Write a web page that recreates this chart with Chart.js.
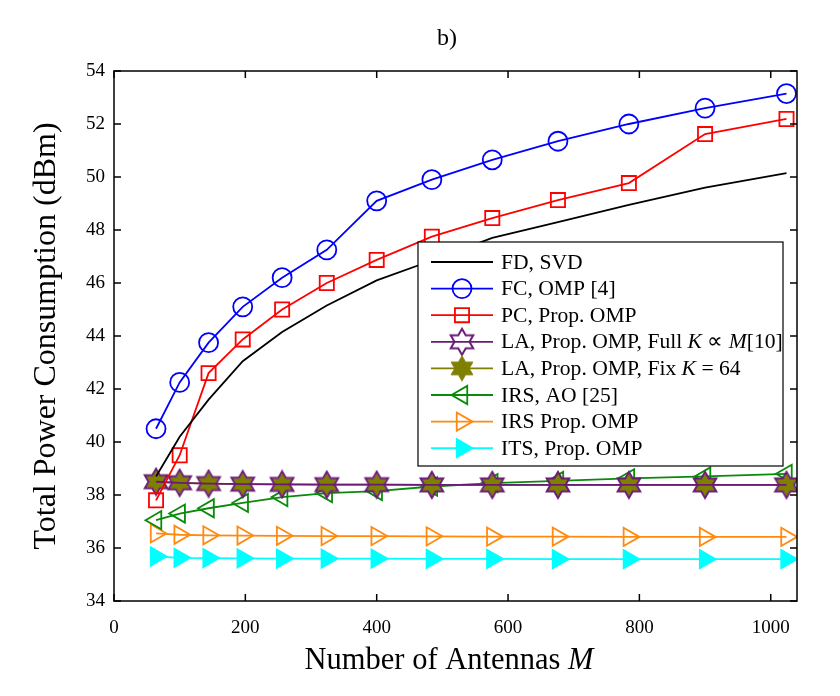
<!DOCTYPE html>
<html>
<head>
<meta charset="utf-8">
<script src="https://cdn.jsdelivr.net/npm/chart.js@4.4.1/dist/chart.umd.min.js"></script>
<style>
  body { margin: 0; background: #fff; }
</style>
</head>
<body>
<canvas id="chart" width="840" height="696"></canvas>
<script>
// number of antennas M (x values)
const antennas = [64, 100, 144, 196, 256, 324, 400, 484, 576, 676, 784, 900, 1024];
// total power consumption (dBm)
const fdSvd   = [38.7, 40.2, 41.6, 43.05, 44.15, 45.15, 46.1, 46.85, 47.7, 48.3, 48.95, 49.6, 50.15];
const fcOmp   = [40.5, 42.25, 43.75, 45.1, 46.2, 47.25, 49.1, 49.9, 50.65, 51.35, 52.0, 52.6, 53.15];
const pcProp  = [37.8, 39.5, 42.6, 43.87, 45.0, 46.0, 46.87, 47.75, 48.45, 49.13, 49.77, 51.62, 52.19];
const laFull  = [38.5, 38.46, 38.43, 38.41, 38.4, 38.39, 38.39, 38.38, 38.38, 38.38, 38.38, 38.38, 38.38];
const laFix   = [38.5, 38.46, 38.43, 38.41, 38.4, 38.39, 38.39, 38.38, 38.38, 38.38, 38.38, 38.38, 38.38];
const irsAo   = [37.05, 37.3, 37.5, 37.7, 37.92, 38.07, 38.15, 38.32, 38.45, 38.53, 38.63, 38.7, 38.8];
const irsProp = [36.55, 36.5, 36.48, 36.47, 36.46, 36.45, 36.45, 36.44, 36.43, 36.43, 36.42, 36.42, 36.42];
const itsProp = [35.68, 35.63, 35.62, 35.61, 35.6, 35.6, 35.6, 35.59, 35.59, 35.58, 35.58, 35.58, 35.58];

const xTickValues = [0, 200, 400, 600, 800, 1000];
const yTickValues = [34, 36, 38, 40, 42, 44, 46, 48, 50, 52, 54];

const labels = [
  'FD, SVD',
  'FC, OMP [4]',
  'PC, Prop. OMP',
  'LA, Prop. OMP, Full K \u221D M[10]',
  'LA, Prop. OMP, Fix K = 64',
  'IRS, AO [25]',
  'IRS Prop. OMP',
  'ITS, Prop. OMP'
];

const serif = "'Liberation Serif', 'Times New Roman', serif";

// six pointed star marker drawn on a small canvas
function hexagram(r, stroke, fill, lw) {
  const c = document.createElement('canvas');
  const s = Math.ceil(2 * r + lw + 2);
  c.width = s; c.height = s;
  const g = c.getContext('2d');
  g.translate(s / 2, s / 2);
  g.beginPath();
  for (let k = 0; k < 12; k++) {
    const a = -Math.PI / 2 + k * Math.PI / 6;
    const rr = k % 2 ? r / Math.sqrt(3) : r;
    g.lineTo(rr * Math.cos(a), rr * Math.sin(a));
  }
  g.closePath();
  if (fill) { g.fillStyle = fill; g.fill(); }
  if (stroke) { g.strokeStyle = stroke; g.lineWidth = lw; g.stroke(); }
  return c;
}

const starFull = hexagram(13, '#6a1b74', null, 2);
const starFix = hexagram(12, null, '#7f7f00', 0);
const starFixLegend = hexagram(12.5, '#7f7f00', '#7f7f00', 1);

function pts(arr) {
  return antennas.map((m, i) => ({ x: m, y: arr[i] }));
}

function line(label, data, color, extra) {
  return Object.assign({
    label: label,
    data: pts(data),
    borderColor: color,
    backgroundColor: color,
    borderWidth: 1.8,
    pointBorderColor: color,
    pointBackgroundColor: 'rgba(0,0,0,0)',
    pointBorderWidth: 1.8,
    pointRadius: 10,
    tension: 0
  }, extra);
}

const datasets = [
  line(labels[0], fdSvd, '#000000', { pointRadius: 0 }),
  line(labels[1], fcOmp, '#0000ff', { pointStyle: 'circle', pointRadius: 9.5 }),
  line(labels[2], pcProp, '#ff0000', { pointStyle: 'rect', pointRadius: 10 }),
  line(labels[3], laFull, '#6a1b74', { pointStyle: starFull, pointRadius: 13, legendStyle: starFull }),
  line(labels[4], laFix, '#7f7f00', { pointStyle: starFix, pointRadius: 12, legendStyle: starFixLegend }),
  line(labels[5], irsAo, '#0a8a0a', { pointStyle: 'triangle', pointRotation: -90, pointRadius: 10.5 }),
  line(labels[6], irsProp, '#ff8a10', { pointStyle: 'triangle', pointRotation: 90, pointRadius: 10.5 }),
  line(labels[7], itsProp, '#00ffff', { pointStyle: 'triangle', pointRotation: 90, pointRadius: 10.5, pointBackgroundColor: '#00ffff' })
];

function drawMarker(ctx, ds, x, y) {
  const style = ds.legendStyle || ds.pointStyle;
  const r = ds.pointRadius;
  if (!r) return;
  ctx.save();
  ctx.strokeStyle = ds.pointBorderColor;
  ctx.fillStyle = ds.pointBackgroundColor;
  ctx.lineWidth = ds.pointBorderWidth;
  if (typeof style === 'object') {
    ctx.drawImage(style, x - style.width / 2, y - style.height / 2);
  } else if (style === 'circle') {
    ctx.beginPath(); ctx.arc(x, y, r, 0, Math.PI * 2); ctx.fill(); ctx.stroke();
  } else if (style === 'rect') {
    const s = r * Math.SQRT1_2;
    ctx.beginPath(); ctx.rect(x - s, y - s, 2 * s, 2 * s); ctx.fill(); ctx.stroke();
  } else if (style === 'triangle') {
    let a = (ds.pointRotation || 0) * Math.PI / 180;
    ctx.beginPath();
    for (let k = 0; k < 3; k++) {
      ctx.lineTo(x + Math.sin(a) * r, y - Math.cos(a) * r);
      a += 2 * Math.PI / 3;
    }
    ctx.closePath(); ctx.fill(); ctx.stroke();
  }
  ctx.restore();
}

// text with single K / M letters in italic
function drawRich(ctx, text, x, y, size) {
  const parts = text.split(/\b([KM])\b/);
  parts.forEach((p, i) => {
    if (!p) return;
    ctx.font = (i % 2 ? 'italic ' : '') + size + 'px ' + serif;
    ctx.fillText(p, x, y);
    x += ctx.measureText(p).width;
  });
  return x;
}

const decorations = {
  id: 'decorations',
  afterDatasetsDraw(chart) {
    const { ctx, chartArea: a, scales: { x, y } } = chart;
    ctx.save();
    // frame with inward ticks on all sides
    ctx.strokeStyle = '#000';
    ctx.lineWidth = 1.5;
    ctx.strokeRect(a.left, a.top, a.right - a.left, a.bottom - a.top);
    ctx.beginPath();
    x.ticks.forEach(t => {
      const px = x.getPixelForValue(t.value);
      ctx.moveTo(px, a.bottom); ctx.lineTo(px, a.bottom - 7);
      ctx.moveTo(px, a.top); ctx.lineTo(px, a.top + 7);
    });
    y.ticks.forEach(t => {
      const py = y.getPixelForValue(t.value);
      ctx.moveTo(a.left, py); ctx.lineTo(a.left + 7, py);
      ctx.moveTo(a.right, py); ctx.lineTo(a.right - 7, py);
    });
    ctx.stroke();

    // legend
    const lx = 418, ly = 242, lw = 365, lh = 224;
    ctx.fillStyle = '#fff';
    ctx.fillRect(lx, ly, lw, lh);
    ctx.lineWidth = 1.2;
    ctx.strokeRect(lx, ly, lw, lh);
    ctx.textBaseline = 'middle';
    chart.data.datasets.forEach((ds, i) => {
      const ry = 262 + i * 26.6;
      ctx.strokeStyle = ds.borderColor;
      ctx.lineWidth = ds.borderWidth;
      ctx.beginPath(); ctx.moveTo(431, ry); ctx.lineTo(493, ry); ctx.stroke();
      drawMarker(ctx, ds, 462, ry);
      ctx.fillStyle = '#000';
      drawRich(ctx, ds.label, 501, ry + 1, 21.6);
    });

    // titles
    ctx.fillStyle = '#000';
    ctx.textAlign = 'center';
    ctx.font = '24px ' + serif;
    ctx.fillText('b)', 447, 39);

    ctx.save();
    ctx.translate(47, (a.top + a.bottom) / 2);
    ctx.rotate(-Math.PI / 2);
    ctx.font = '32px ' + serif;
    ctx.fillText('Total Power Consumption (dBm)', 0, 0);
    ctx.restore();

    ctx.textAlign = 'left';
    ctx.font = '30.5px ' + serif;
    const w1 = ctx.measureText('Number of Antennas ').width;
    ctx.font = 'italic 30.5px ' + serif;
    const w2 = ctx.measureText('M').width;
    drawRich(ctx, 'Number of Antennas M', 449 - (w1 + w2) / 2, 661, 30.5);
    ctx.restore();
  }
};

new Chart(document.getElementById('chart'), {
  type: 'line',
  data: { datasets: datasets },
  options: {
    responsive: false,
    animation: false,
    layout: { padding: { top: 71, right: 43, left: 0, bottom: 0 } },
    plugins: { legend: { display: false }, tooltip: { enabled: false } },
    scales: {
      x: {
        type: 'linear',
        min: 0,
        max: 1040,
        grid: { display: false, drawTicks: false },
        border: { display: false },
        afterBuildTicks(s) { s.ticks = xTickValues.map(v => ({ value: v })); },
        ticks: { padding: 16, maxRotation: 0, autoSkip: false, color: '#000', font: { family: serif, size: 19 }, callback: v => String(v) },
        afterFit(s) { s.height = 95; }
      },
      y: {
        min: 34,
        max: 54,
        grid: { display: false, drawTicks: false },
        border: { display: false },
        afterBuildTicks(s) { s.ticks = yTickValues.map(v => ({ value: v })); },
        ticks: { padding: 9, autoSkip: false, color: '#000', font: { family: serif, size: 19 }, callback: v => String(v) },
        afterFit(s) { s.width = 114; }
      }
    }
  },
  plugins: [decorations]
});
</script>
</body>
</html>
